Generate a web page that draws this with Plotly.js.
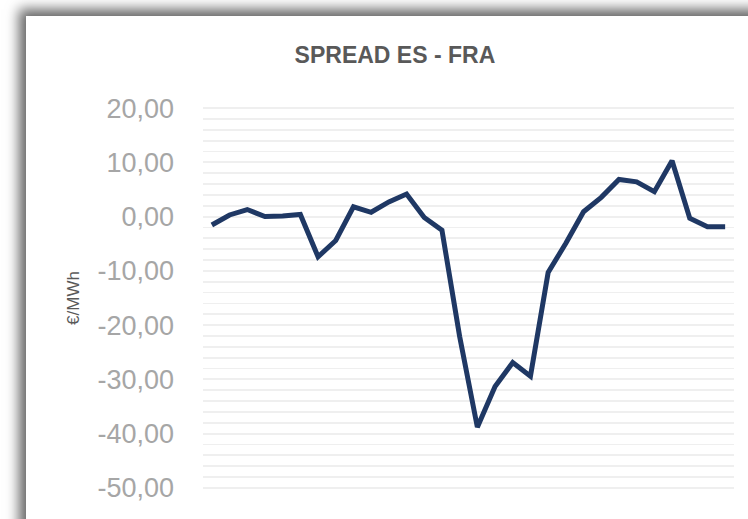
<!DOCTYPE html>
<html>
<head>
<meta charset="utf-8">
<script src="https://cdn.plot.ly/plotly-3.0.1.min.js"></script>
<style>
  html, body { margin: 0; padding: 0; background: #ffffff; overflow: hidden; }
  #frame {
    position: absolute; left: 26px; top: 16px; width: 800px; height: 600px;
    background: #ffffff;
    box-shadow: -3px -3px 12px 4px rgba(0, 0, 0, 0.6);
  }
  #chart { position: absolute; left: 0; top: 0; width: 748px; height: 519px; }
</style>
</head>
<body>
<div id="frame"></div>
<div id="chart"></div>
<script>
// periods (labels not visible in the source, cut off below)
var periods = ["S1", "S2", "S3", "S4", "S5", "S6", "S7", "S8", "S9", "S10",
               "S11", "S12", "S13", "S14", "S15", "S16", "S17", "S18", "S19", "S20",
               "S21", "S22", "S23", "S24", "S25", "S26", "S27", "S28", "S29", "S30"];

// spread ES - FRA in €/MWh
var spread = [-1.55, 0.3, 1.3, 0.0, 0.1, 0.4, -7.4, -4.4, 1.8, 0.8,
              2.7, 4.15, -0.15, -2.5, -22.1, -38.8, -31.3, -26.9, -29.4, -10.3,
              -4.9, 0.9, 3.55, 6.85, 6.4, 4.6, 10.3, -0.3, -1.85, -1.85];

var tickVals = [20, 10, 0, -10, -20, -30, -40, -50];
var tickText = ["20,00", "10,00", "0,00", "-10,00", "-20,00", "-30,00", "-40,00", "-50,00"];

var trace = {
  x: periods,
  y: spread,
  type: "scatter",
  mode: "lines",
  line: { color: "#1f3864", width: 5 },
  hoverinfo: "y"
};

var layout = {
  width: 748,
  height: 519,
  margin: { l: 203, r: 14, t: 107, b: 30 },
  paper_bgcolor: "rgba(0,0,0,0)",
  plot_bgcolor: "rgba(0,0,0,0)",
  showlegend: false,
  font: { family: "Liberation Sans, Arial, sans-serif", color: "#a6a6a6" },
  title: {
    text: "SPREAD ES - FRA",
    font: { family: "Liberation Sans, Arial, sans-serif", size: 23, color: "#595959", weight: "bold" },
    xref: "container", yref: "container",
    x: 0.528, y: 0.894, xanchor: "center", yanchor: "middle"
  },
  xaxis: {
    showticklabels: false,
    showgrid: false,
    zeroline: false,
    showline: false,
    ticks: "",
    range: [-0.5, 29.5]
  },
  yaxis: {
    range: [-50.2, 20.2],
    tickmode: "array",
    tickvals: tickVals,
    ticktext: tickText,
    tickfont: { size: 27, color: "#a6a6a6" },
    ticks: "",
    ticklabelstandoff: 28,
    showgrid: true,
    gridcolor: "#efefef",
    gridwidth: 1.8,
    minor: { dtick: 2, showgrid: true, gridcolor: "#efefef", gridwidth: 1.8 },
    zeroline: false,
    showline: false,
    title: {
      text: "€/MWh",
      font: { size: 17, color: "#595959" },
      standoff: 13
    }
  }
};

Plotly.newPlot("chart", [trace], layout, { displayModeBar: false, staticPlot: true });
</script>
</body>
</html>
